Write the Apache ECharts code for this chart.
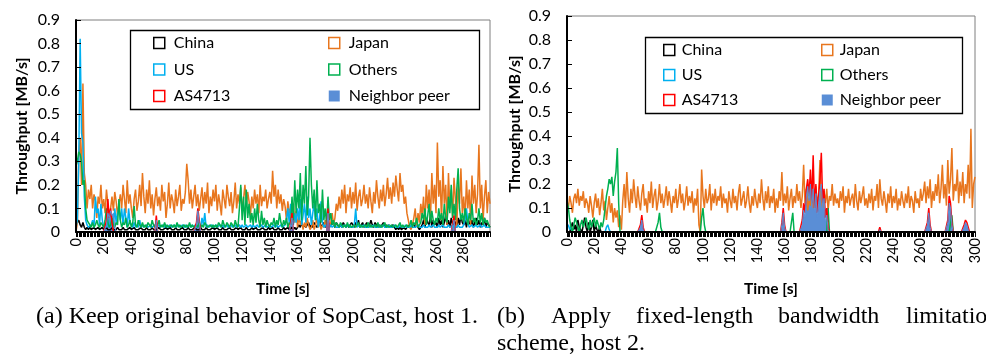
<!DOCTYPE html>
<html><head><meta charset="utf-8">
<script src="https://cdn.jsdelivr.net/npm/echarts@6/dist/echarts.min.js"></script>
<style>html,body{margin:0;padding:0;background:#fff}#c{width:986px;height:360px}</style>
</head><body><div id="c"></div>
<script>
// ---------- categories (time in seconds) ----------
const timeA = Array.from({length: 300}, (_, i) => i);
const timeB = Array.from({length: 301}, (_, i) => i);
const yTicks = [0, 0.1, 0.2, 0.3, 0.4, 0.5, 0.6, 0.7, 0.8, 0.9];
const seriesNames = ['China', 'Japan', 'US', 'Others', 'AS4713', 'Neighbor peer'];

// ---------- panel (a): host 1, original behaviour ----------
const japanA = [
0,.04,.32,.4,.2,.63,.25,.2,.1,.18,
.14,.2,.1,.16,.13,.06,.15,.12,.2,.1,
.14,.08,.18,.12,.06,.1,.15,.09,.17,.13,
.07,.12,.16,.1,.2,.14,.08,.22,.12,.16,
.1,.06,.14,.18,.09,.13,.2,.11,.25,.15,
.08,.18,.12,.22,.1,.16,.07,.14,.19,.11,
.15,.09,.2,.13,.17,.06,.12,.21,.1,.16,
.13,.08,.18,.11,.15,.2,.09,.14,.12,.17,
.29,.22,.12,.18,.1,.15,.2,.11,.16,.09,
.14,.19,.1,.17,.12,.21,.08,.15,.11,.18,
.13,.2,.09,.16,.12,.07,.18,.14,.1,.2,
.15,.11,.17,.08,.13,.21,.1,.16,.12,.19,
.09,.14,.2,.11,.17,.13,.07,.15,.1,.18,
.12,.16,.08,.2,.11,.15,.13,.18,.1,.14,
.17,.12,.26,.15,.2,.1,.18,.12,.16,.09,
.14,.11,.05,.13,.08,.1,.06,.12,.04,.09,
.02,.07,.03,.05,.01,.04,.02,.06,.03,.01,
.02,.05,.01,.03,.06,.02,.04,.01,.03,.02,
.05,.03,.07,.02,.04,.08,.03,.06,.12,.09,
.15,.1,.18,.12,.2,.08,.16,.13,.19,.1,
.17,.12,.21,.09,.15,.18,.11,.14,.2,.12,
.16,.1,.19,.13,.08,.17,.12,.22,.15,.1,
.18,.13,.2,.11,.16,.23,.14,.19,.12,.21,
.15,.24,.18,.13,.25,.17,.2,.12,.15,.08,
.05,.02,.01,.03,.06,.1,.02,.08,.04,.12,
.07,.15,.03,.2,.1,.18,.05,.25,.12,.2,
.08,.38,.15,.22,.05,.28,.12,.2,.03,.25,
.1,.18,.06,.23,.14,.02,.2,.12,.27,.08,
.15,.05,.22,.1,.18,.03,.24,.12,.2,.08,
.16,.37,.1,.2,.05,.15,.22,.08,.17,.12];

const chinaA = [
.06,.04,.05,.03,.02,.04,.02,.01,.02,.01,
.02,.01,.01,.02,.01,.01,.02,.01,.01,.02,
.01,.01,.02,.01,.01,.01,.02,.01,.01,.01,
.02,.01,.01,.01,.02,.01,.01,.01,.01,.02,
.01,.01,.02,.01,.01,.01,.01,.02,.01,.01,
.01,.02,.01,.01,.01,.02,.01,.01,.01,.01,
.02,.01,.01,.01,.01,.02,.01,.01,.02,.01,
.01,.01,.02,.01,.01,.01,.01,.02,.01,.01,
.01,.02,.01,.01,.01,.01,.02,.01,.01,.01,
.02,.01,.01,.01,.02,.01,.01,.01,.01,.02,
.01,.01,.02,.01,.01,.01,.02,.01,.01,.01,
.01,.02,.01,.01,.01,.01,.02,.01,.01,.02,
.01,.01,.01,.02,.01,.01,.01,.02,.01,.01,
.02,.01,.01,.01,.01,.02,.01,.01,.01,.02,
.01,.01,.02,.01,.01,.01,.02,.01,.01,.01,
.02,.01,.01,.02,.01,.01,.02,.01,.02,.01,
.02,.03,.02,.04,.02,.03,.02,.03,.04,.02,
.03,.02,.04,.03,.02,.03,.05,.02,.03,.04,
.02,.03,.04,.02,.03,.05,.03,.02,.04,.03,
.02,.03,.02,.04,.03,.02,.03,.02,.03,.04,
.03,.02,.04,.03,.05,.02,.03,.04,.02,.03,
.04,.02,.03,.05,.03,.02,.04,.03,.02,.03,
.02,.03,.04,.02,.03,.02,.03,.02,.02,.03,
.02,.01,.02,.01,.02,.01,.01,.02,.01,.02,
.02,.03,.02,.04,.03,.02,.03,.02,.01,.02,
.03,.05,.02,.06,.04,.03,.07,.02,.05,.03,
.04,.02,.06,.03,.05,.02,.04,.07,.03,.05,
.02,.06,.03,.05,.04,.02,.06,.03,.07,.04,
.03,.05,.02,.06,.04,.03,.05,.02,.04,.06,
.03,.05,.02,.04,.03,.06,.02,.04,.03,.02];

const usA = [
.02,.05,.3,.82,.42,.38,.15,.05,.03,.02,
.02,.03,.05,.02,.15,.08,.1,.03,.12,.05,
.02,.03,.02,.05,.02,.04,.02,.03,.1,.04,
.08,.1,.05,.1,.03,.1,.06,.02,.1,.04,
.03,.02,.04,.02,.03,.02,.05,.02,.03,.02,
.02,.03,.02,.02,.03,.02,.02,.03,.02,.02,
.03,.02,.02,.03,.02,.03,.02,.02,.03,.02,
.02,.03,.02,.02,.03,.02,.02,.03,.02,.03,
.02,.02,.03,.02,.03,.02,.03,.02,.02,.03,
.02,.06,.03,.08,.02,.03,.02,.02,.03,.02,
.02,.03,.02,.02,.03,.02,.03,.02,.02,.03,
.02,.02,.03,.02,.02,.03,.02,.02,.03,.02,
.03,.02,.02,.03,.02,.02,.03,.02,.03,.02,
.02,.03,.02,.02,.03,.02,.02,.03,.02,.02,
.03,.02,.02,.03,.02,.03,.02,.02,.03,.02,
.02,.03,.05,.1,.04,.12,.06,.03,.08,.04,
.1,.05,.14,.03,.07,.12,.04,.15,.06,.1,
.03,.08,.12,.05,.1,.02,.06,.13,.04,.02,
.03,.02,.04,.02,.03,.02,.02,.03,.02,.02,
.02,.03,.02,.02,.03,.02,.02,.03,.02,.02,
.02,.03,.1,.02,.02,.03,.02,.02,.03,.02,
.02,.02,.03,.02,.02,.03,.02,.02,.02,.03,
.02,.02,.03,.02,.02,.02,.03,.02,.02,.02,
.03,.02,.02,.02,.03,.02,.02,.02,.03,.02,
.02,.02,.03,.02,.02,.02,.02,.03,.02,.02,
.02,.03,.02,.02,.02,.03,.02,.02,.03,.02,
.02,.02,.03,.02,.02,.03,.02,.02,.02,.03,
.02,.02,.03,.02,.02,.02,.03,.02,.02,.02,
.03,.05,.1,.04,.02,.02,.03,.02,.02,.03,
.02,.02,.03,.02,.02,.03,.02,.02,.02,.02];

const othersA = [
.28,.3,.34,.33,.3,.2,.22,.1,.05,.04,
.03,.02,.04,.02,.03,.05,.03,.02,.04,.03,
.02,.05,.1,.04,.02,.03,.06,.03,.02,.04,
.03,.14,.05,.02,.04,.03,.06,.02,.03,.05,
.02,.04,.11,.03,.02,.05,.03,.02,.04,.02,
.03,.02,.04,.03,.02,.05,.03,.02,.04,.03,
.05,.02,.03,.02,.04,.02,.03,.02,.02,.03,
.02,.03,.02,.04,.02,.03,.02,.02,.03,.02,
.03,.02,.04,.02,.03,.02,.02,.03,.02,.04,
.02,.03,.02,.04,.03,.02,.02,.03,.02,.03,
.02,.03,.02,.04,.03,.02,.05,.03,.02,.04,
.03,.02,.04,.03,.02,.05,.03,.02,.1,.2,
.05,.15,.03,.18,.06,.12,.04,.08,.03,.1,
.04,.12,.05,.02,.09,.03,.06,.02,.05,.03,
.02,.04,.03,.06,.02,.05,.03,.08,.04,.02,
.05,.03,.06,.02,.04,.03,.15,.05,.22,.08,
.18,.1,.25,.05,.2,.12,.28,.07,.15,.4,
.2,.1,.18,.05,.22,.08,.12,.04,.18,.05,
.1,.03,.15,.05,.08,.03,.05,.02,.04,.03,
.02,.04,.03,.02,.03,.02,.04,.02,.03,.02,
.02,.03,.02,.02,.04,.02,.03,.02,.02,.03,
.02,.04,.02,.03,.02,.02,.03,.02,.04,.02,
.03,.02,.02,.04,.02,.03,.02,.02,.03,.02,
.02,.03,.02,.02,.04,.02,.03,.02,.02,.03,
.02,.03,.05,.02,.04,.03,.06,.02,.03,.04,
.08,.05,.1,.03,.07,.12,.04,.09,.05,.03,
.06,.04,.1,.05,.08,.03,.12,.06,.04,.15,
.08,.2,.06,.12,.05,.18,.27,.1,.05,.08,
.04,.1,.06,.03,.08,.05,.12,.04,.06,.03,
.05,.1,.04,.08,.03,.06,.04,.05,.03,.02];

// sparse series: [time, value] pairs, all other seconds are 0
const as4713A = [[22,.05],[23,.14],[24,.06],[25,.1],[26,.04],[58,.07],[87,.04],[88,.1],[89,.05],[156,.08],[182,.1],[273,.07]];
const neighborA = [[22,.03],[23,.08],[24,.06],[25,.09],[26,.07],[27,.08],[28,.02],[58,.05],[87,.03],[88,.09],[89,.04],[156,.06],[182,.08],[273,.05]];

// ---------- panel (b): host 2, fixed-length bandwidth limitation ----------
const japanB = [
.13,.1,.15,.12,.08,.14,.16,.12,.18,.11,
.15,.13,.17,.1,.14,.12,.08,.15,.11,.06,
.12,.16,.1,.14,.07,.12,.18,.09,.13,.05,
.1,.15,.08,.12,.04,.1,.06,.09,.02,.07,
.01,.13,.2,.1,.25,.14,.08,.18,.12,.22,
.15,.1,.19,.13,.09,.16,.2,.11,.14,.08,
.17,.12,.21,.1,.15,.18,.09,.13,.2,.12,
.16,.1,.14,.19,.11,.17,.13,.08,.15,.12,
.18,.1,.14,.2,.12,.16,.09,.13,.19,.11,
.15,.12,.17,.08,.14,.11,.18,.03,0,.26,
.15,.1,.18,.12,.14,.2,.09,.16,.12,.18,
.11,.15,.13,.19,.1,.16,.12,.14,.08,.17,
.13,.1,.18,.12,.15,.09,.16,.2,.11,.14,
.17,.1,.13,.19,.12,.08,.15,.11,.18,.13,
.1,.16,.12,.22,.14,.09,.17,.12,.19,.1,
.15,.12,.18,.08,.14,.1,.17,.13,.25,.11,
.16,.12,.19,.09,.14,.18,.1,.15,.12,.2,
.13,.17,.1,.15,.28,.12,.18,.09,.14,.11,
.16,.1,.13,.19,.12,.15,.3,.14,.1,.17,
.12,.18,.09,.15,.13,.2,.11,.16,.12,.14,
.1,.17,.13,.19,.08,.15,.12,.18,.11,.14,
.16,.1,.2,.13,.09,.17,.12,.15,.19,.11,
.14,.1,.16,.12,.18,.09,.15,.13,.2,.1,
.22,.14,.11,.17,.13,.08,.16,.12,.19,.1,
.15,.12,.18,.09,.14,.11,.17,.13,.1,.16,
.12,.19,.1,.15,.13,.08,.17,.12,.14,.1,
.18,.13,.16,.21,.12,.19,.14,.22,.1,.17,
.13,.2,.15,.24,.12,.18,.28,.14,.2,.11,
.3,.16,.22,.35,.13,.2,.17,.26,.12,.21,
.15,.25,.12,.2,.16,.28,.14,.43,.1,.2,
.23];

const chinaB = [[3,.02],[4,.04],[5,.01],[6,.03],[8,.05],[9,.02],[10,.01],[12,.03],[13,.06],[14,.02],[16,.04],[18,.02],[19,.05],[21,.03],[22,.01],[24,.02]];
const usB = [[0,.02],[1,.03],[2,.01],[3,.02],[29,.02],[30,.03],[31,.01]];
const othersB = [[0,.13],[1,.1],[2,.05],[3,.02],[5,.03],[6,.06],[7,.04],[8,.02],[10,.03],[11,.05],[12,.02],[13,.04],[14,.06],[15,.03],[16,.01],[17,.05],[18,.02],[19,.04],[20,.06],[21,.02],[22,.05],[23,.03],[24,.01],[25,.04],[26,.02],[27,.05],[28,.1],[29,.15],[30,.18],[31,.22],[32,.2],[33,.23],[34,.15],[35,.21],[36,.25],[37,.35],[38,.12],[67,.04],[68,.08],[69,.02],[99,.06],[100,.1],[101,.03],[166,.08],[192,.1],[283,.07]];
const as4713B = [[54,.03],[55,.07],[56,.02],[158,.04],[159,.1],[160,.03],[173,.05],[174,.12],[175,.08],[176,.18],[177,.22],[178,.15],[179,.26],[180,.12],[181,.32],[182,.1],[183,.2],[184,.08],[185,.15],[186,.22],[187,.33],[188,.12],[189,.18],[190,.06],[191,.1],[192,.02],[230,.02],[265,.04],[266,.1],[267,.03],[280,.05],[281,.15],[282,.12],[283,.04],[292,.03],[293,.05],[294,.04],[295,.02]];
const neighborB = [[54,.02],[55,.05],[56,.01],[158,.03],[159,.08],[160,.02],[173,.03],[174,.09],[175,.06],[176,.15],[177,.19],[178,.13],[179,.2],[180,.1],[181,.18],[182,.08],[183,.16],[184,.06],[185,.12],[186,.17],[187,.2],[188,.1],[189,.14],[190,.04],[191,.07],[192,.01],[230,.01],[265,.03],[266,.08],[267,.02],[280,.04],[281,.12],[282,.1],[283,.03],[292,.02],[293,.04],[294,.03],[295,.01]];

// ---------- styling ----------
const colors = {'China':'#000000','Japan':'#E8761E','US':'#00B0F0','Others':'#00B050','AS4713':'#FF0000','Neighbor peer':'#5A8ED6'};
const FONT = 'Lato, "Open Sans", sans-serif';
const SERIF = '24px "Liberation Serif", "DejaVu Serif", serif';

function expand(n, pts){ const a = new Array(n).fill(0); pts.forEach(p => { a[p[0]] = p[1]; }); return a; }

const dataA = {'China':chinaA,'Japan':japanA,'US':usA,'Others':othersA,'AS4713':expand(300, as4713A),'Neighbor peer':expand(300, neighborA)};
const dataB = {'China':expand(301, chinaB),'Japan':japanB,'US':expand(301, usB),'Others':expand(301, othersB),'AS4713':expand(301, as4713B),'Neighbor peer':expand(301, neighborB)};

function mkX(idx, cats){
  return {gridIndex: idx, type:'category', data: cats, boundaryGap:false, z:10,
    axisLine:{show:true, onZero:false, lineStyle:{color:'#000', width:2}},
    axisTick:{show:true, interval:0, length:5, lineStyle:{color:'#000', width:1}},
    axisLabel:{interval:19, rotate:90, fontSize:14.5, color:'#000', fontFamily:FONT, margin:6},
    splitLine:{show:false},
    name:'Time [s]', nameLocation:'middle', nameGap:49,
    nameTextStyle:{fontSize:15.5, fontWeight:'bold', color:'#000', fontFamily:FONT}};
}
function mkY(idx, gap){
  return {gridIndex: idx, type:'value', min: yTicks[0], max: yTicks[yTicks.length-1], interval:0.1, z:10,
    axisLine:{show:true, lineStyle:{color:'#000', width:2}},
    axisTick:{show:true, inside:true, length:5, lineStyle:{color:'#000', width:1}},
    axisLabel:{fontSize:16, color:'#000', fontFamily:FONT, margin:16,
      formatter: v => (Math.abs(v) < 1e-9 ? '0' : v.toFixed(1))},
    splitLine:{show:false},
    name:'Throughput [MB/s]', nameLocation:'middle', nameGap:gap, nameRotate:90,
    nameTextStyle:{fontSize:16, fontWeight:'bold', color:'#000', fontFamily:FONT}};
}

const series = [];
[[0, dataA], [1, dataB]].forEach(([gi, d]) => {
  seriesNames.forEach(nm => {
    const s = {name:nm, type:'line', xAxisIndex:gi, yAxisIndex:gi, data:d[nm],
      showSymbol:false, symbol:'none', animation:false, silent:true,
      lineStyle:{color:colors[nm], width: nm === 'Neighbor peer' ? 1 : 1.5},
      itemStyle:{color:colors[nm]}};
    if (nm === 'Neighbor peer') s.areaStyle = {color:colors[nm], opacity:1};
    series.push(s);
  });
});

function legItem(nm){
  const filled = nm === 'Neighbor peer';
  return {name:nm, itemStyle:{color: filled ? colors[nm] : '#ffffff', borderColor: colors[nm], borderWidth: filled ? 0 : 1.5}};
}
function mkLegend(left, top, names, gap, pad){
  return {left:left, top:top, orient:'vertical', icon:'rect', itemWidth:11, itemHeight:11,
    itemGap:gap, padding:0, selectedMode:false, z:20,
    textStyle:{fontSize:16, color:'#000', fontFamily:FONT, lineHeight:18, padding:[0,0,0,pad]},
    data: names.map(legItem)};
}

const option = {
  animation:false,
  backgroundColor:'#fff',
  grid:[
    {left:76, top:20, width:414, height:212, show:true, borderColor:'#7f7f7f', borderWidth:1, backgroundColor:'transparent'},
    {left:567, top:16, width:408, height:216, show:true, borderColor:'#7f7f7f', borderWidth:1, backgroundColor:'transparent'}
  ],
  xAxis:[mkX(0, timeA), mkX(1, timeB)],
  yAxis:[mkY(0, 46), mkY(1, 44)],
  legend:[
    mkLegend(153, 34, ['China','US','AS4713'], 8.5, 4),
    mkLegend(328, 34, ['Japan','Others','Neighbor peer'], 8.5, 4),
    mkLegend(663, 41, ['China','US','AS4713'], 7, 2),
    mkLegend(821, 41, ['Japan','Others','Neighbor peer'], 7, 2)
  ],
  series: series,
  graphic:[
    {type:'rect', z:3, shape:{x:130.5, y:30.5, width:349, height:79}, style:{fill:'#fff', stroke:'#000', lineWidth:1.3}},
    {type:'rect', z:3, shape:{x:645.5, y:37.5, width:317, height:76}, style:{fill:'#fff', stroke:'#000', lineWidth:1.3}},
    {type:'text', left:36, top:305, style:{text:'(a) Keep original behavior of SopCast, host 1.', font:SERIF, fill:'#000'}},
    {type:'text', left:497, top:305, style:{text:'(b)', font:SERIF, fill:'#000'}},
    {type:'text', left:551, top:305, style:{text:'Apply', font:SERIF, fill:'#000'}},
    {type:'text', left:636, top:305, style:{text:'fixed-length', font:SERIF, fill:'#000'}},
    {type:'text', left:778, top:305, style:{text:'bandwidth', font:SERIF, fill:'#000'}},
    {type:'text', left:906, top:305, style:{text:'limitation', font:SERIF, fill:'#000'}},
    {type:'text', left:497, top:332, style:{text:'scheme, host 2.', font:SERIF, fill:'#000'}}
  ]
};
const chart = echarts.init(document.getElementById('c'), null, {renderer:'canvas'});
chart.setOption(option);
</script></body></html>
